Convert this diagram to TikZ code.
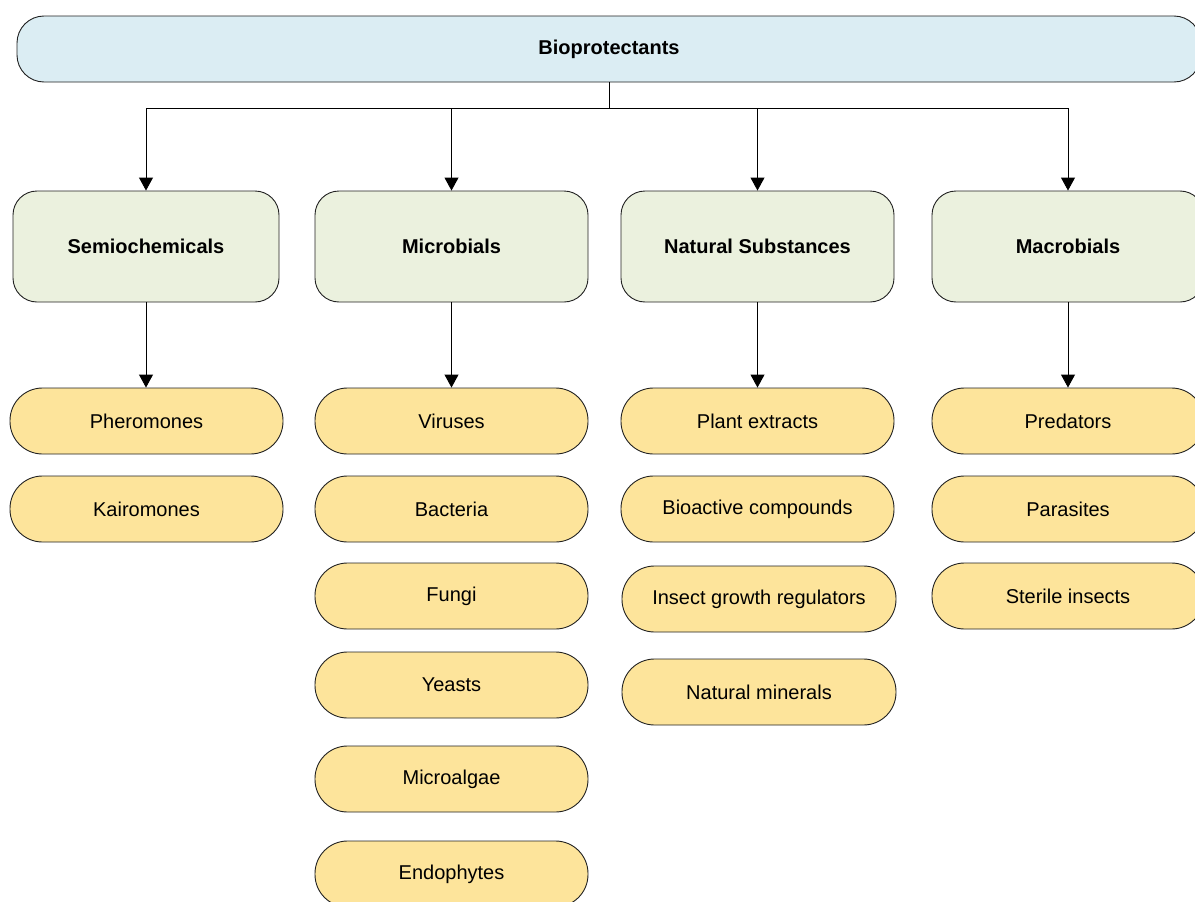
\documentclass[tikz,border=0pt]{standalone}
\usepackage{fontspec}
\setmainfont{Liberation Sans}
\usetikzlibrary{arrows.meta}

\definecolor{rootfill}{HTML}{DBEDF3}
\definecolor{catfill}{HTML}{EBF1DE}
\definecolor{itemfill}{HTML}{FDE49B}
\definecolor{edge}{HTML}{222222}

\tikzset{
  base/.style={draw=edge, line width=0.9pt, inner sep=0pt, align=center,
    font=\fontsize{20}{24}\selectfont},
  root/.style={base, fill=rootfill, rounded corners=27pt,
    minimum width=1184pt, minimum height=66pt, font=\fontsize{20}{24}\selectfont\bfseries},
  cat/.style={base, fill=catfill, rounded corners=24pt,
    minimum width=273pt, minimum height=111pt, font=\fontsize{20}{24}\selectfont\bfseries},
  item/.style={base, fill=itemfill, rounded corners=32.5pt,
    minimum width=273pt, minimum height=66pt},
  arr/.style={draw=black, line width=0.9pt, -{Triangle[width=14pt,length=13pt]}},
}

\begin{document}
\begin{tikzpicture}[x=1pt, y=-1pt]
  \clip (0,0) rectangle (1195,902);
  \fill[white] (0,0) rectangle (1195,902);

  % root
  \node[root] (top) at (609,49) {Bioprotectants};

  % categories
  \node[cat, minimum width=266pt] (sem) at (146,246.5) {Semiochemicals};
  \node[cat] (mic) at (451.5,246.5) {Microbials};
  \node[cat] (nat) at (757.5,246.5) {Natural Substances};
  \node[cat, minimum width=272pt] (mac) at (1068,246.5) {Macrobials};

  % semiochemicals
  \node[item] (pher) at (146.5,421) {Pheromones};
  \node[item] (kair) at (146.5,509) {Kairomones};

  % microbials
  \node[item] (vir) at (451.5,421) {Viruses};
  \node[item] (bac) at (451.5,509) {Bacteria};
  \node[item] (fun) at (451.5,596) {Fungi};
  \node[item] (yea) at (451.5,685) {Yeasts};
  \node[item] (alg) at (451.5,779) {Microalgae};
  \node[item] (end) at (451.5,874) {Endophytes};

  % natural substances
  \node[item] (pla) at (757.5,421) {Plant extracts};
  \node[item] (bio) at (757.5,509) {Bioactive compounds};
  \node[item, minimum width=274pt] (igr) at (759,599) {Insect growth regulators};
  \node[item, minimum width=274pt] (min) at (759,692) {Natural minerals};

  % macrobials
  \node[item, minimum width=272pt] (pre) at (1068,421) {Predators};
  \node[item, minimum width=272pt] (par) at (1068,509) {Parasites};
  \node[item, minimum width=272pt] (ste) at (1068,596) {Sterile insects};

  % connectors from the root to the categories
  \coordinate (bus) at (609,108);
  \draw[line width=0.9pt] (top.south) -- (bus);
  \foreach \c in {sem,mic,nat,mac}
    \draw[arr] (bus) -| (\c.north);

  % connectors from the categories to their first items
  \draw[arr] (sem.south) -- (sem.south |- pher.north);
  \draw[arr] (mic.south) -- (mic.south |- vir.north);
  \draw[arr] (nat.south) -- (nat.south |- pla.north);
  \draw[arr] (mac.south) -- (mac.south |- pre.north);
\end{tikzpicture}
\end{document}
